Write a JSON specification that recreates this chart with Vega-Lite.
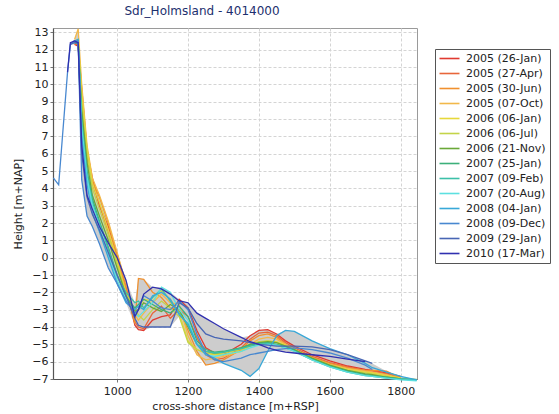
{
"$schema":"https://vega.github.io/schema/vega-lite/v6.json",
"width":364,"height":351,
"autosize":{"type":"none"},
"padding":{"left":53,"top":28,"right":142,"bottom":35},
"background":"white",
"title":{"text":"Sdr_Holmsland - 4014000","color":"#1c2f6e","fontSize":12,"fontWeight":"normal","font":"DejaVu Sans","dx":-33,"offset":8},
"config":{"view":{"stroke":"#9a9a9a","strokeWidth":1},
"axis":{"labelFont":"DejaVu Sans","labelFontSize":11,"labelColor":"#222","titleFont":"DejaVu Sans","titleFontSize":11,"titleFontWeight":"normal","titleColor":"#222","gridColor":"#d4d4d4","gridDash":[3,2],"domainColor":"#555","domainWidth":1.2,"tickColor":"#777","tickSize":3,"labelOverlap":false},
"legend":{"orient":"none","legendX":382,"legendY":21,"title":null,"symbolType":"M-1.25,0H3.75","symbolSize":64,"symbolStrokeWidth":1.6,"labelFont":"DejaVu Sans","labelFontSize":11,"labelColor":"#222","strokeColor":"#555","fillColor":"white","padding":4,"rowPadding":3,"labelOffset":16}},
"data":{"values":[
{"date":"2005 (26-Jan)","x":880,"h":12.3},{"date":"2005 (26-Jan)","x":890,"h":12.2},{"date":"2005 (26-Jan)","x":900,"h":9.8},{"date":"2005 (26-Jan)","x":915,"h":6.2},{"date":"2005 (26-Jan)","x":930,"h":4.6},{"date":"2005 (26-Jan)","x":950,"h":3.0},{"date":"2005 (26-Jan)","x":975,"h":1.8},{"date":"2005 (26-Jan)","x":1000,"h":0.2},{"date":"2005 (26-Jan)","x":1025,"h":-1.6},{"date":"2005 (26-Jan)","x":1050,"h":-3.9},{"date":"2005 (26-Jan)","x":1060,"h":-4.15},{"date":"2005 (26-Jan)","x":1075,"h":-4.2},{"date":"2005 (26-Jan)","x":1100,"h":-3.6},{"date":"2005 (26-Jan)","x":1125,"h":-3.4},{"date":"2005 (26-Jan)","x":1150,"h":-3.3},{"date":"2005 (26-Jan)","x":1175,"h":-2.4},{"date":"2005 (26-Jan)","x":1200,"h":-2.9},{"date":"2005 (26-Jan)","x":1225,"h":-4.2},{"date":"2005 (26-Jan)","x":1250,"h":-5.2},{"date":"2005 (26-Jan)","x":1275,"h":-5.5},{"date":"2005 (26-Jan)","x":1300,"h":-5.6},{"date":"2005 (26-Jan)","x":1350,"h":-5.0},{"date":"2005 (26-Jan)","x":1375,"h":-4.5},{"date":"2005 (26-Jan)","x":1400,"h":-4.2},{"date":"2005 (26-Jan)","x":1425,"h":-4.15},{"date":"2005 (26-Jan)","x":1450,"h":-4.4},{"date":"2005 (26-Jan)","x":1475,"h":-4.8},{"date":"2005 (26-Jan)","x":1500,"h":-5.1},{"date":"2005 (26-Jan)","x":1550,"h":-5.6},{"date":"2005 (26-Jan)","x":1600,"h":-5.95},{"date":"2005 (26-Jan)","x":1650,"h":-6.25},{"date":"2005 (26-Jan)","x":1700,"h":-6.45},{"date":"2005 (26-Jan)","x":1720,"h":-6.5},{"date":"2005 (26-Jan)","x":1760,"h":-6.65},{"date":"2005 (26-Jan)","x":1800,"h":-6.85},
{"date":"2005 (27-Apr)","x":880,"h":12.3},{"date":"2005 (27-Apr)","x":890,"h":12.3},{"date":"2005 (27-Apr)","x":900,"h":9.0},{"date":"2005 (27-Apr)","x":915,"h":5.8},{"date":"2005 (27-Apr)","x":930,"h":4.3},{"date":"2005 (27-Apr)","x":950,"h":3.1},{"date":"2005 (27-Apr)","x":975,"h":1.5},{"date":"2005 (27-Apr)","x":1000,"h":-0.2},{"date":"2005 (27-Apr)","x":1025,"h":-2.0},{"date":"2005 (27-Apr)","x":1050,"h":-3.7},{"date":"2005 (27-Apr)","x":1060,"h":-4.0},{"date":"2005 (27-Apr)","x":1075,"h":-4.1},{"date":"2005 (27-Apr)","x":1100,"h":-3.2},{"date":"2005 (27-Apr)","x":1125,"h":-2.8},{"date":"2005 (27-Apr)","x":1150,"h":-3.5},{"date":"2005 (27-Apr)","x":1175,"h":-3.0},{"date":"2005 (27-Apr)","x":1200,"h":-3.4},{"date":"2005 (27-Apr)","x":1225,"h":-4.6},{"date":"2005 (27-Apr)","x":1250,"h":-5.6},{"date":"2005 (27-Apr)","x":1275,"h":-5.9},{"date":"2005 (27-Apr)","x":1300,"h":-5.8},{"date":"2005 (27-Apr)","x":1350,"h":-5.2},{"date":"2005 (27-Apr)","x":1375,"h":-4.7},{"date":"2005 (27-Apr)","x":1400,"h":-4.35},{"date":"2005 (27-Apr)","x":1425,"h":-4.3},{"date":"2005 (27-Apr)","x":1450,"h":-4.5},{"date":"2005 (27-Apr)","x":1475,"h":-4.9},{"date":"2005 (27-Apr)","x":1500,"h":-5.2},{"date":"2005 (27-Apr)","x":1550,"h":-5.7},{"date":"2005 (27-Apr)","x":1600,"h":-6.05},{"date":"2005 (27-Apr)","x":1650,"h":-6.3},{"date":"2005 (27-Apr)","x":1700,"h":-6.5},{"date":"2005 (27-Apr)","x":1720,"h":-6.55},{"date":"2005 (27-Apr)","x":1760,"h":-6.7},{"date":"2005 (27-Apr)","x":1800,"h":-6.9},
{"date":"2005 (30-Jun)","x":880,"h":12.4},{"date":"2005 (30-Jun)","x":890,"h":12.5},{"date":"2005 (30-Jun)","x":900,"h":9.3},{"date":"2005 (30-Jun)","x":915,"h":6.0},{"date":"2005 (30-Jun)","x":930,"h":4.4},{"date":"2005 (30-Jun)","x":950,"h":3.5},{"date":"2005 (30-Jun)","x":975,"h":2.0},{"date":"2005 (30-Jun)","x":1000,"h":0.0},{"date":"2005 (30-Jun)","x":1025,"h":-1.8},{"date":"2005 (30-Jun)","x":1050,"h":-3.8},{"date":"2005 (30-Jun)","x":1060,"h":-1.2},{"date":"2005 (30-Jun)","x":1075,"h":-1.25},{"date":"2005 (30-Jun)","x":1100,"h":-2.0},{"date":"2005 (30-Jun)","x":1125,"h":-2.3},{"date":"2005 (30-Jun)","x":1150,"h":-2.9},{"date":"2005 (30-Jun)","x":1175,"h":-3.0},{"date":"2005 (30-Jun)","x":1200,"h":-4.2},{"date":"2005 (30-Jun)","x":1225,"h":-5.4},{"date":"2005 (30-Jun)","x":1250,"h":-6.2},{"date":"2005 (30-Jun)","x":1275,"h":-6.1},{"date":"2005 (30-Jun)","x":1300,"h":-5.9},{"date":"2005 (30-Jun)","x":1350,"h":-5.3},{"date":"2005 (30-Jun)","x":1375,"h":-4.8},{"date":"2005 (30-Jun)","x":1400,"h":-4.5},{"date":"2005 (30-Jun)","x":1425,"h":-4.4},{"date":"2005 (30-Jun)","x":1450,"h":-4.6},{"date":"2005 (30-Jun)","x":1475,"h":-5.0},{"date":"2005 (30-Jun)","x":1500,"h":-5.3},{"date":"2005 (30-Jun)","x":1550,"h":-5.75},{"date":"2005 (30-Jun)","x":1600,"h":-6.1},{"date":"2005 (30-Jun)","x":1650,"h":-6.35},{"date":"2005 (30-Jun)","x":1700,"h":-6.5},{"date":"2005 (30-Jun)","x":1720,"h":-6.5},{"date":"2005 (30-Jun)","x":1760,"h":-6.55},{"date":"2005 (30-Jun)","x":1800,"h":-6.95},
{"date":"2005 (07-Oct)","x":880,"h":12.6},{"date":"2005 (07-Oct)","x":890,"h":13.2},{"date":"2005 (07-Oct)","x":900,"h":10.0},{"date":"2005 (07-Oct)","x":915,"h":6.5},{"date":"2005 (07-Oct)","x":930,"h":4.6},{"date":"2005 (07-Oct)","x":950,"h":3.6},{"date":"2005 (07-Oct)","x":975,"h":2.1},{"date":"2005 (07-Oct)","x":1000,"h":0.3},{"date":"2005 (07-Oct)","x":1025,"h":-1.5},{"date":"2005 (07-Oct)","x":1050,"h":-3.3},{"date":"2005 (07-Oct)","x":1060,"h":-3.6},{"date":"2005 (07-Oct)","x":1075,"h":-3.2},{"date":"2005 (07-Oct)","x":1100,"h":-2.6},{"date":"2005 (07-Oct)","x":1125,"h":-2.1},{"date":"2005 (07-Oct)","x":1150,"h":-2.6},{"date":"2005 (07-Oct)","x":1175,"h":-2.7},{"date":"2005 (07-Oct)","x":1200,"h":-4.5},{"date":"2005 (07-Oct)","x":1225,"h":-5.6},{"date":"2005 (07-Oct)","x":1250,"h":-5.9},{"date":"2005 (07-Oct)","x":1275,"h":-5.8},{"date":"2005 (07-Oct)","x":1300,"h":-5.7},{"date":"2005 (07-Oct)","x":1350,"h":-5.4},{"date":"2005 (07-Oct)","x":1375,"h":-5.0},{"date":"2005 (07-Oct)","x":1400,"h":-4.7},{"date":"2005 (07-Oct)","x":1425,"h":-4.6},{"date":"2005 (07-Oct)","x":1450,"h":-4.7},{"date":"2005 (07-Oct)","x":1475,"h":-5.0},{"date":"2005 (07-Oct)","x":1500,"h":-5.3},{"date":"2005 (07-Oct)","x":1550,"h":-5.8},{"date":"2005 (07-Oct)","x":1600,"h":-6.15},{"date":"2005 (07-Oct)","x":1650,"h":-6.4},{"date":"2005 (07-Oct)","x":1700,"h":-6.55},{"date":"2005 (07-Oct)","x":1720,"h":-6.6},{"date":"2005 (07-Oct)","x":1760,"h":-6.75},{"date":"2005 (07-Oct)","x":1800,"h":-6.95},
{"date":"2006 (06-Jan)","x":880,"h":12.5},{"date":"2006 (06-Jan)","x":890,"h":12.6},{"date":"2006 (06-Jan)","x":900,"h":9.5},{"date":"2006 (06-Jan)","x":915,"h":6.3},{"date":"2006 (06-Jan)","x":930,"h":4.3},{"date":"2006 (06-Jan)","x":950,"h":3.2},{"date":"2006 (06-Jan)","x":975,"h":1.6},{"date":"2006 (06-Jan)","x":1000,"h":-0.2},{"date":"2006 (06-Jan)","x":1025,"h":-2.0},{"date":"2006 (06-Jan)","x":1050,"h":-3.2},{"date":"2006 (06-Jan)","x":1060,"h":-3.0},{"date":"2006 (06-Jan)","x":1075,"h":-2.4},{"date":"2006 (06-Jan)","x":1100,"h":-2.5},{"date":"2006 (06-Jan)","x":1125,"h":-1.9},{"date":"2006 (06-Jan)","x":1150,"h":-2.4},{"date":"2006 (06-Jan)","x":1175,"h":-3.2},{"date":"2006 (06-Jan)","x":1200,"h":-4.8},{"date":"2006 (06-Jan)","x":1225,"h":-5.3},{"date":"2006 (06-Jan)","x":1250,"h":-5.5},{"date":"2006 (06-Jan)","x":1275,"h":-5.6},{"date":"2006 (06-Jan)","x":1300,"h":-5.6},{"date":"2006 (06-Jan)","x":1350,"h":-5.4},{"date":"2006 (06-Jan)","x":1375,"h":-5.1},{"date":"2006 (06-Jan)","x":1400,"h":-4.9},{"date":"2006 (06-Jan)","x":1425,"h":-4.8},{"date":"2006 (06-Jan)","x":1450,"h":-4.85},{"date":"2006 (06-Jan)","x":1475,"h":-5.05},{"date":"2006 (06-Jan)","x":1500,"h":-5.3},{"date":"2006 (06-Jan)","x":1550,"h":-5.8},{"date":"2006 (06-Jan)","x":1600,"h":-6.2},{"date":"2006 (06-Jan)","x":1650,"h":-6.45},{"date":"2006 (06-Jan)","x":1700,"h":-6.6},{"date":"2006 (06-Jan)","x":1720,"h":-6.65},{"date":"2006 (06-Jan)","x":1760,"h":-6.8},{"date":"2006 (06-Jan)","x":1800,"h":-6.95},
{"date":"2006 (06-Jul)","x":880,"h":12.4},{"date":"2006 (06-Jul)","x":890,"h":12.5},{"date":"2006 (06-Jul)","x":900,"h":9.0},{"date":"2006 (06-Jul)","x":915,"h":6.0},{"date":"2006 (06-Jul)","x":930,"h":4.0},{"date":"2006 (06-Jul)","x":950,"h":2.8},{"date":"2006 (06-Jul)","x":975,"h":1.3},{"date":"2006 (06-Jul)","x":1000,"h":-0.4},{"date":"2006 (06-Jul)","x":1025,"h":-2.1},{"date":"2006 (06-Jul)","x":1050,"h":-3.0},{"date":"2006 (06-Jul)","x":1060,"h":-3.3},{"date":"2006 (06-Jul)","x":1075,"h":-3.6},{"date":"2006 (06-Jul)","x":1100,"h":-3.0},{"date":"2006 (06-Jul)","x":1125,"h":-2.5},{"date":"2006 (06-Jul)","x":1150,"h":-2.9},{"date":"2006 (06-Jul)","x":1175,"h":-3.4},{"date":"2006 (06-Jul)","x":1200,"h":-4.9},{"date":"2006 (06-Jul)","x":1225,"h":-5.3},{"date":"2006 (06-Jul)","x":1250,"h":-5.5},{"date":"2006 (06-Jul)","x":1275,"h":-5.55},{"date":"2006 (06-Jul)","x":1300,"h":-5.5},{"date":"2006 (06-Jul)","x":1350,"h":-5.3},{"date":"2006 (06-Jul)","x":1375,"h":-5.0},{"date":"2006 (06-Jul)","x":1400,"h":-4.85},{"date":"2006 (06-Jul)","x":1425,"h":-4.8},{"date":"2006 (06-Jul)","x":1450,"h":-4.9},{"date":"2006 (06-Jul)","x":1475,"h":-5.1},{"date":"2006 (06-Jul)","x":1500,"h":-5.35},{"date":"2006 (06-Jul)","x":1550,"h":-5.85},{"date":"2006 (06-Jul)","x":1600,"h":-6.25},{"date":"2006 (06-Jul)","x":1650,"h":-6.5},{"date":"2006 (06-Jul)","x":1700,"h":-6.65},{"date":"2006 (06-Jul)","x":1720,"h":-6.7},{"date":"2006 (06-Jul)","x":1760,"h":-6.85},{"date":"2006 (06-Jul)","x":1800,"h":-7.0},
{"date":"2006 (21-Nov)","x":880,"h":12.4},{"date":"2006 (21-Nov)","x":890,"h":12.4},{"date":"2006 (21-Nov)","x":900,"h":8.5},{"date":"2006 (21-Nov)","x":915,"h":5.5},{"date":"2006 (21-Nov)","x":930,"h":3.6},{"date":"2006 (21-Nov)","x":950,"h":2.4},{"date":"2006 (21-Nov)","x":975,"h":1.0},{"date":"2006 (21-Nov)","x":1000,"h":-0.6},{"date":"2006 (21-Nov)","x":1025,"h":-2.2},{"date":"2006 (21-Nov)","x":1050,"h":-3.1},{"date":"2006 (21-Nov)","x":1060,"h":-3.0},{"date":"2006 (21-Nov)","x":1075,"h":-2.6},{"date":"2006 (21-Nov)","x":1100,"h":-2.9},{"date":"2006 (21-Nov)","x":1125,"h":-3.1},{"date":"2006 (21-Nov)","x":1150,"h":-2.7},{"date":"2006 (21-Nov)","x":1175,"h":-3.0},{"date":"2006 (21-Nov)","x":1200,"h":-4.0},{"date":"2006 (21-Nov)","x":1225,"h":-5.0},{"date":"2006 (21-Nov)","x":1250,"h":-5.4},{"date":"2006 (21-Nov)","x":1275,"h":-5.5},{"date":"2006 (21-Nov)","x":1300,"h":-5.45},{"date":"2006 (21-Nov)","x":1350,"h":-5.2},{"date":"2006 (21-Nov)","x":1375,"h":-5.0},{"date":"2006 (21-Nov)","x":1400,"h":-4.9},{"date":"2006 (21-Nov)","x":1425,"h":-4.85},{"date":"2006 (21-Nov)","x":1450,"h":-4.9},{"date":"2006 (21-Nov)","x":1475,"h":-5.1},{"date":"2006 (21-Nov)","x":1500,"h":-5.3},{"date":"2006 (21-Nov)","x":1550,"h":-5.8},{"date":"2006 (21-Nov)","x":1600,"h":-6.2},{"date":"2006 (21-Nov)","x":1650,"h":-6.5},{"date":"2006 (21-Nov)","x":1700,"h":-6.7},{"date":"2006 (21-Nov)","x":1720,"h":-6.75},{"date":"2006 (21-Nov)","x":1760,"h":-6.9},{"date":"2006 (21-Nov)","x":1800,"h":-7.0},{"date":"2006 (21-Nov)","x":1845,"h":-7.02},
{"date":"2007 (25-Jan)","x":880,"h":12.4},{"date":"2007 (25-Jan)","x":890,"h":12.4},{"date":"2007 (25-Jan)","x":900,"h":8.0},{"date":"2007 (25-Jan)","x":915,"h":5.0},{"date":"2007 (25-Jan)","x":930,"h":3.4},{"date":"2007 (25-Jan)","x":950,"h":2.1},{"date":"2007 (25-Jan)","x":975,"h":0.6},{"date":"2007 (25-Jan)","x":1000,"h":-1.0},{"date":"2007 (25-Jan)","x":1025,"h":-2.3},{"date":"2007 (25-Jan)","x":1050,"h":-2.9},{"date":"2007 (25-Jan)","x":1060,"h":-2.7},{"date":"2007 (25-Jan)","x":1075,"h":-2.4},{"date":"2007 (25-Jan)","x":1100,"h":-2.7},{"date":"2007 (25-Jan)","x":1125,"h":-3.0},{"date":"2007 (25-Jan)","x":1150,"h":-3.2},{"date":"2007 (25-Jan)","x":1175,"h":-2.8},{"date":"2007 (25-Jan)","x":1200,"h":-3.4},{"date":"2007 (25-Jan)","x":1225,"h":-4.8},{"date":"2007 (25-Jan)","x":1250,"h":-5.3},{"date":"2007 (25-Jan)","x":1275,"h":-5.45},{"date":"2007 (25-Jan)","x":1300,"h":-5.4},{"date":"2007 (25-Jan)","x":1350,"h":-5.2},{"date":"2007 (25-Jan)","x":1375,"h":-5.05},{"date":"2007 (25-Jan)","x":1400,"h":-4.95},{"date":"2007 (25-Jan)","x":1425,"h":-4.9},{"date":"2007 (25-Jan)","x":1450,"h":-5.0},{"date":"2007 (25-Jan)","x":1475,"h":-5.15},{"date":"2007 (25-Jan)","x":1500,"h":-5.35},{"date":"2007 (25-Jan)","x":1550,"h":-5.85},{"date":"2007 (25-Jan)","x":1600,"h":-6.25},{"date":"2007 (25-Jan)","x":1650,"h":-6.55},{"date":"2007 (25-Jan)","x":1700,"h":-6.75},{"date":"2007 (25-Jan)","x":1720,"h":-6.8},{"date":"2007 (25-Jan)","x":1760,"h":-6.9},{"date":"2007 (25-Jan)","x":1800,"h":-7.0},{"date":"2007 (25-Jan)","x":1845,"h":-7.05},
{"date":"2007 (09-Feb)","x":880,"h":12.4},{"date":"2007 (09-Feb)","x":890,"h":12.5},{"date":"2007 (09-Feb)","x":900,"h":7.8},{"date":"2007 (09-Feb)","x":915,"h":4.8},{"date":"2007 (09-Feb)","x":930,"h":3.2},{"date":"2007 (09-Feb)","x":950,"h":2.0},{"date":"2007 (09-Feb)","x":975,"h":0.5},{"date":"2007 (09-Feb)","x":1000,"h":-1.1},{"date":"2007 (09-Feb)","x":1025,"h":-2.0},{"date":"2007 (09-Feb)","x":1050,"h":-2.6},{"date":"2007 (09-Feb)","x":1060,"h":-2.5},{"date":"2007 (09-Feb)","x":1075,"h":-2.9},{"date":"2007 (09-Feb)","x":1100,"h":-2.3},{"date":"2007 (09-Feb)","x":1125,"h":-1.8},{"date":"2007 (09-Feb)","x":1150,"h":-2.5},{"date":"2007 (09-Feb)","x":1175,"h":-3.2},{"date":"2007 (09-Feb)","x":1200,"h":-3.9},{"date":"2007 (09-Feb)","x":1225,"h":-5.0},{"date":"2007 (09-Feb)","x":1250,"h":-5.4},{"date":"2007 (09-Feb)","x":1275,"h":-5.5},{"date":"2007 (09-Feb)","x":1300,"h":-5.45},{"date":"2007 (09-Feb)","x":1350,"h":-5.25},{"date":"2007 (09-Feb)","x":1375,"h":-5.1},{"date":"2007 (09-Feb)","x":1400,"h":-5.0},{"date":"2007 (09-Feb)","x":1425,"h":-4.95},{"date":"2007 (09-Feb)","x":1450,"h":-5.05},{"date":"2007 (09-Feb)","x":1475,"h":-5.2},{"date":"2007 (09-Feb)","x":1500,"h":-5.4},{"date":"2007 (09-Feb)","x":1550,"h":-5.9},{"date":"2007 (09-Feb)","x":1600,"h":-6.3},{"date":"2007 (09-Feb)","x":1650,"h":-6.6},{"date":"2007 (09-Feb)","x":1700,"h":-6.8},{"date":"2007 (09-Feb)","x":1720,"h":-6.85},{"date":"2007 (09-Feb)","x":1760,"h":-6.95},{"date":"2007 (09-Feb)","x":1800,"h":-7.0},{"date":"2007 (09-Feb)","x":1845,"h":-7.05},
{"date":"2007 (20-Aug)","x":880,"h":12.4},{"date":"2007 (20-Aug)","x":890,"h":12.5},{"date":"2007 (20-Aug)","x":900,"h":7.5},{"date":"2007 (20-Aug)","x":915,"h":4.6},{"date":"2007 (20-Aug)","x":930,"h":3.0},{"date":"2007 (20-Aug)","x":950,"h":1.8},{"date":"2007 (20-Aug)","x":975,"h":0.2},{"date":"2007 (20-Aug)","x":1000,"h":-1.3},{"date":"2007 (20-Aug)","x":1025,"h":-2.4},{"date":"2007 (20-Aug)","x":1050,"h":-3.2},{"date":"2007 (20-Aug)","x":1060,"h":-3.4},{"date":"2007 (20-Aug)","x":1075,"h":-3.1},{"date":"2007 (20-Aug)","x":1100,"h":-2.6},{"date":"2007 (20-Aug)","x":1125,"h":-1.7},{"date":"2007 (20-Aug)","x":1150,"h":-2.0},{"date":"2007 (20-Aug)","x":1175,"h":-3.0},{"date":"2007 (20-Aug)","x":1200,"h":-3.6},{"date":"2007 (20-Aug)","x":1225,"h":-5.0},{"date":"2007 (20-Aug)","x":1250,"h":-5.6},{"date":"2007 (20-Aug)","x":1275,"h":-5.7},{"date":"2007 (20-Aug)","x":1300,"h":-5.6},{"date":"2007 (20-Aug)","x":1350,"h":-5.4},{"date":"2007 (20-Aug)","x":1375,"h":-5.2},{"date":"2007 (20-Aug)","x":1400,"h":-5.05},{"date":"2007 (20-Aug)","x":1425,"h":-5.0},{"date":"2007 (20-Aug)","x":1450,"h":-5.05},{"date":"2007 (20-Aug)","x":1475,"h":-5.2},{"date":"2007 (20-Aug)","x":1500,"h":-5.4},{"date":"2007 (20-Aug)","x":1550,"h":-5.9},{"date":"2007 (20-Aug)","x":1600,"h":-6.3},{"date":"2007 (20-Aug)","x":1650,"h":-6.6},{"date":"2007 (20-Aug)","x":1700,"h":-6.8},{"date":"2007 (20-Aug)","x":1720,"h":-6.85},{"date":"2007 (20-Aug)","x":1760,"h":-6.95},{"date":"2007 (20-Aug)","x":1800,"h":-7.05},{"date":"2007 (20-Aug)","x":1845,"h":-7.1},
{"date":"2008 (04-Jan)","x":880,"h":12.5},{"date":"2008 (04-Jan)","x":890,"h":12.6},{"date":"2008 (04-Jan)","x":900,"h":7.0},{"date":"2008 (04-Jan)","x":915,"h":4.2},{"date":"2008 (04-Jan)","x":930,"h":2.6},{"date":"2008 (04-Jan)","x":950,"h":1.5},{"date":"2008 (04-Jan)","x":975,"h":0.0},{"date":"2008 (04-Jan)","x":1000,"h":-1.5},{"date":"2008 (04-Jan)","x":1025,"h":-2.6},{"date":"2008 (04-Jan)","x":1050,"h":-3.0},{"date":"2008 (04-Jan)","x":1060,"h":-2.8},{"date":"2008 (04-Jan)","x":1075,"h":-3.0},{"date":"2008 (04-Jan)","x":1100,"h":-2.2},{"date":"2008 (04-Jan)","x":1125,"h":-2.0},{"date":"2008 (04-Jan)","x":1150,"h":-2.4},{"date":"2008 (04-Jan)","x":1175,"h":-3.3},{"date":"2008 (04-Jan)","x":1200,"h":-3.8},{"date":"2008 (04-Jan)","x":1225,"h":-5.0},{"date":"2008 (04-Jan)","x":1250,"h":-5.6},{"date":"2008 (04-Jan)","x":1275,"h":-5.8},{"date":"2008 (04-Jan)","x":1300,"h":-6.1},{"date":"2008 (04-Jan)","x":1350,"h":-6.5},{"date":"2008 (04-Jan)","x":1375,"h":-6.85},{"date":"2008 (04-Jan)","x":1400,"h":-6.4},{"date":"2008 (04-Jan)","x":1425,"h":-5.4},{"date":"2008 (04-Jan)","x":1450,"h":-4.5},{"date":"2008 (04-Jan)","x":1475,"h":-4.2},{"date":"2008 (04-Jan)","x":1500,"h":-4.25},{"date":"2008 (04-Jan)","x":1550,"h":-4.8},{"date":"2008 (04-Jan)","x":1600,"h":-5.25},{"date":"2008 (04-Jan)","x":1650,"h":-5.6},{"date":"2008 (04-Jan)","x":1700,"h":-6.1},{"date":"2008 (04-Jan)","x":1720,"h":-6.35},{"date":"2008 (04-Jan)","x":1760,"h":-6.6},{"date":"2008 (04-Jan)","x":1800,"h":-6.85},{"date":"2008 (04-Jan)","x":1845,"h":-7.05},
{"date":"2008 (09-Dec)","x":820,"h":4.6},{"date":"2008 (09-Dec)","x":835,"h":4.2},{"date":"2008 (09-Dec)","x":845,"h":6.8},{"date":"2008 (09-Dec)","x":860,"h":10.7},{"date":"2008 (09-Dec)","x":868,"h":12.3},{"date":"2008 (09-Dec)","x":880,"h":12.5},{"date":"2008 (09-Dec)","x":890,"h":12.5},{"date":"2008 (09-Dec)","x":900,"h":4.5},{"date":"2008 (09-Dec)","x":915,"h":2.4},{"date":"2008 (09-Dec)","x":930,"h":1.8},{"date":"2008 (09-Dec)","x":950,"h":0.8},{"date":"2008 (09-Dec)","x":975,"h":-0.6},{"date":"2008 (09-Dec)","x":1000,"h":-1.5},{"date":"2008 (09-Dec)","x":1025,"h":-2.5},{"date":"2008 (09-Dec)","x":1050,"h":-3.2},{"date":"2008 (09-Dec)","x":1060,"h":-3.0},{"date":"2008 (09-Dec)","x":1075,"h":-2.2},{"date":"2008 (09-Dec)","x":1100,"h":-2.5},{"date":"2008 (09-Dec)","x":1125,"h":-2.9},{"date":"2008 (09-Dec)","x":1150,"h":-3.0},{"date":"2008 (09-Dec)","x":1175,"h":-2.5},{"date":"2008 (09-Dec)","x":1200,"h":-3.0},{"date":"2008 (09-Dec)","x":1225,"h":-4.4},{"date":"2008 (09-Dec)","x":1250,"h":-5.5},{"date":"2008 (09-Dec)","x":1275,"h":-5.9},{"date":"2008 (09-Dec)","x":1300,"h":-6.0},{"date":"2008 (09-Dec)","x":1350,"h":-5.8},{"date":"2008 (09-Dec)","x":1375,"h":-5.6},{"date":"2008 (09-Dec)","x":1400,"h":-5.5},{"date":"2008 (09-Dec)","x":1425,"h":-5.4},{"date":"2008 (09-Dec)","x":1450,"h":-5.3},{"date":"2008 (09-Dec)","x":1475,"h":-5.25},{"date":"2008 (09-Dec)","x":1500,"h":-5.2},{"date":"2008 (09-Dec)","x":1550,"h":-5.3},{"date":"2008 (09-Dec)","x":1600,"h":-5.5},{"date":"2008 (09-Dec)","x":1650,"h":-5.8},{"date":"2008 (09-Dec)","x":1700,"h":-6.2},{"date":"2008 (09-Dec)","x":1720,"h":-6.45},
{"date":"2009 (29-Jan)","x":868,"h":12.3},{"date":"2009 (29-Jan)","x":880,"h":12.4},{"date":"2009 (29-Jan)","x":890,"h":12.4},{"date":"2009 (29-Jan)","x":900,"h":6.0},{"date":"2009 (29-Jan)","x":915,"h":3.5},{"date":"2009 (29-Jan)","x":930,"h":2.5},{"date":"2009 (29-Jan)","x":950,"h":1.6},{"date":"2009 (29-Jan)","x":975,"h":0.3},{"date":"2009 (29-Jan)","x":1000,"h":-1.0},{"date":"2009 (29-Jan)","x":1025,"h":-2.2},{"date":"2009 (29-Jan)","x":1050,"h":-3.5},{"date":"2009 (29-Jan)","x":1060,"h":-3.9},{"date":"2009 (29-Jan)","x":1075,"h":-4.0},{"date":"2009 (29-Jan)","x":1100,"h":-4.0},{"date":"2009 (29-Jan)","x":1125,"h":-4.0},{"date":"2009 (29-Jan)","x":1150,"h":-4.0},{"date":"2009 (29-Jan)","x":1175,"h":-2.6},{"date":"2009 (29-Jan)","x":1200,"h":-2.9},{"date":"2009 (29-Jan)","x":1225,"h":-3.8},{"date":"2009 (29-Jan)","x":1250,"h":-4.4},{"date":"2009 (29-Jan)","x":1275,"h":-4.6},{"date":"2009 (29-Jan)","x":1300,"h":-4.7},{"date":"2009 (29-Jan)","x":1350,"h":-4.8},{"date":"2009 (29-Jan)","x":1375,"h":-4.9},{"date":"2009 (29-Jan)","x":1400,"h":-5.0},{"date":"2009 (29-Jan)","x":1425,"h":-5.05},{"date":"2009 (29-Jan)","x":1450,"h":-5.1},{"date":"2009 (29-Jan)","x":1475,"h":-5.1},{"date":"2009 (29-Jan)","x":1500,"h":-5.1},{"date":"2009 (29-Jan)","x":1550,"h":-5.15},{"date":"2009 (29-Jan)","x":1600,"h":-5.3},{"date":"2009 (29-Jan)","x":1650,"h":-5.6},{"date":"2009 (29-Jan)","x":1700,"h":-5.95},{"date":"2009 (29-Jan)","x":1720,"h":-6.1},
{"date":"2010 (17-Mar)","x":860,"h":10.7},{"date":"2010 (17-Mar)","x":868,"h":12.4},{"date":"2010 (17-Mar)","x":880,"h":12.5},{"date":"2010 (17-Mar)","x":890,"h":12.4},{"date":"2010 (17-Mar)","x":900,"h":6.5},{"date":"2010 (17-Mar)","x":915,"h":3.6},{"date":"2010 (17-Mar)","x":930,"h":2.8},{"date":"2010 (17-Mar)","x":950,"h":1.8},{"date":"2010 (17-Mar)","x":975,"h":0.85},{"date":"2010 (17-Mar)","x":1000,"h":0.0},{"date":"2010 (17-Mar)","x":1025,"h":-1.3},{"date":"2010 (17-Mar)","x":1050,"h":-3.4},{"date":"2010 (17-Mar)","x":1060,"h":-3.0},{"date":"2010 (17-Mar)","x":1075,"h":-2.1},{"date":"2010 (17-Mar)","x":1100,"h":-1.7},{"date":"2010 (17-Mar)","x":1125,"h":-1.8},{"date":"2010 (17-Mar)","x":1150,"h":-2.1},{"date":"2010 (17-Mar)","x":1175,"h":-2.5},{"date":"2010 (17-Mar)","x":1200,"h":-2.6},{"date":"2010 (17-Mar)","x":1225,"h":-3.2},{"date":"2010 (17-Mar)","x":1250,"h":-3.5},{"date":"2010 (17-Mar)","x":1275,"h":-3.8},{"date":"2010 (17-Mar)","x":1300,"h":-4.1},{"date":"2010 (17-Mar)","x":1350,"h":-4.6},{"date":"2010 (17-Mar)","x":1375,"h":-4.85},{"date":"2010 (17-Mar)","x":1400,"h":-5.0},{"date":"2010 (17-Mar)","x":1425,"h":-5.2},{"date":"2010 (17-Mar)","x":1450,"h":-5.35},{"date":"2010 (17-Mar)","x":1475,"h":-5.45},{"date":"2010 (17-Mar)","x":1500,"h":-5.5},{"date":"2010 (17-Mar)","x":1550,"h":-5.6},{"date":"2010 (17-Mar)","x":1600,"h":-5.7},{"date":"2010 (17-Mar)","x":1650,"h":-5.85},{"date":"2010 (17-Mar)","x":1700,"h":-6.0}
]},
"layer":[
{"transform":[{"aggregate":[{"op":"min","field":"h","as":"lo"},{"op":"max","field":"h","as":"hi"}],"groupby":["x"]}],
 "mark":{"type":"area","color":"#cdcdcd","opacity":1},
 "encoding":{
  "x":{"field":"x","type":"quantitative","scale":{"domain":[819,1846],"nice":false,"zero":false},"axis":{"values":[1000,1200,1400,1600,1800],"tickCount":20,"format":"d","title":"cross-shore distance [m+RSP]","labelPadding":3,"titlePadding":4}},
  "y":{"field":"lo","type":"quantitative","scale":{"domain":[-7,13.25],"nice":false,"zero":false},"axis":{"values":[-7,-6,-5,-4,-3,-2,-1,0,1,2,3,4,5,6,7,8,9,10,11,12,13],"tickCount":40,"format":"d","title":"Height [m+NAP]","labelPadding":2,"titlePadding":8}},
  "y2":{"field":"hi"}}},
{"mark":{"type":"line","strokeWidth":1.3},
 "encoding":{
  "x":{"field":"x","type":"quantitative"},
  "y":{"field":"h","type":"quantitative"},
  "color":{"field":"date","type":"nominal","scale":{"domain":["2005 (26-Jan)","2005 (27-Apr)","2005 (30-Jun)","2005 (07-Oct)","2006 (06-Jan)","2006 (06-Jul)","2006 (21-Nov)","2007 (25-Jan)","2007 (09-Feb)","2007 (20-Aug)","2008 (04-Jan)","2008 (09-Dec)","2009 (29-Jan)","2010 (17-Mar)"],"range":["#e03a30","#e8663a","#f0902e","#f2b84a","#e6d83a","#c4d448","#6aa838","#3cb07a","#3cc0a8","#5ce0e0","#38a8d8","#4888d0","#4866b4","#3030b0"]}}}}
]
}
